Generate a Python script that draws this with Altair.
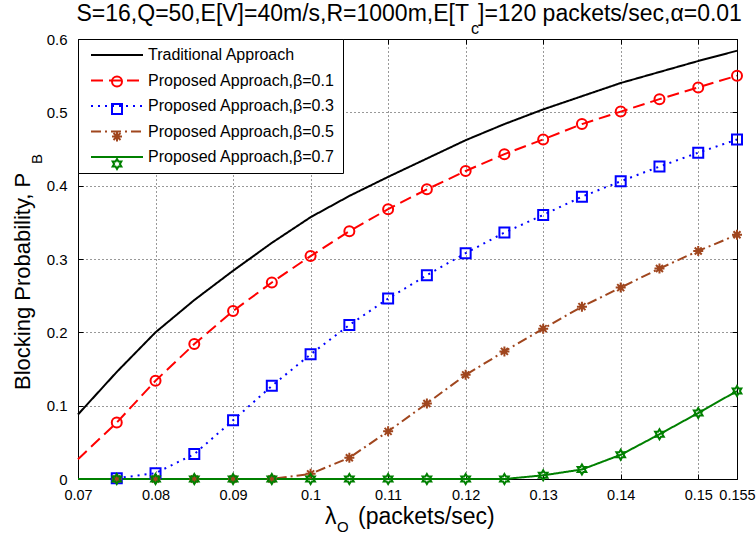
import altair as alt
import pandas as pd

# ---------------- data ----------------
x_vals = [0.07, 0.075, 0.08, 0.085, 0.09, 0.095, 0.10, 0.105, 0.11,
          0.115, 0.12, 0.125, 0.13, 0.135, 0.14, 0.145, 0.15, 0.155]
traditional = [0.088, 0.146, 0.200, 0.244, 0.284, 0.322, 0.357, 0.386, 0.412,
               0.437, 0.462, 0.484, 0.504, 0.522, 0.540, 0.555, 0.570, 0.584]
beta01 = [0.027, 0.077, 0.134, 0.184, 0.229, 0.268, 0.304, 0.338, 0.368,
          0.395, 0.420, 0.443, 0.463, 0.484, 0.501, 0.518, 0.534, 0.550]
beta03 = [None, 0.001, 0.008, 0.034, 0.080, 0.127, 0.170, 0.210, 0.246,
          0.278, 0.308, 0.336, 0.360, 0.385, 0.406, 0.426, 0.445, 0.463]
beta05 = [None, 0.0, 0.0, 0.0, 0.0, 0.0, 0.007, 0.029, 0.065,
          0.103, 0.142, 0.174, 0.205, 0.235, 0.261, 0.287, 0.311, 0.333]
beta07 = [0.0, 0.0, 0.0, 0.0, 0.0, 0.0, 0.0, 0.0, 0.0,
          0.0, 0.0, 0.0, 0.005, 0.013, 0.033, 0.061, 0.090, 0.120]

series_names = ["Traditional Approach",
                "Proposed Approach,\u03b2=0.1",
                "Proposed Approach,\u03b2=0.3",
                "Proposed Approach,\u03b2=0.5",
                "Proposed Approach,\u03b2=0.7"]
series_values = [traditional, beta01, beta03, beta05, beta07]
has_markers = [False, True, True, True, True]

x_ticks = [0.07, 0.08, 0.09, 0.10, 0.11, 0.12, 0.13, 0.14, 0.15, 0.155]
y_ticks = [0.0, 0.1, 0.2, 0.3, 0.4, 0.5, 0.6]

# ---------------- styles ----------------
colors = ["#000000", "#FF0000", "#0000FF", "#A0461E", "#008000"]
dashes = [[1, 0], [12, 6], [2, 5], [10, 4, 2, 4], [1, 0]]
asterisk = "M-1,0L1,0M0,-1L0,1M-0.7,-0.7L0.7,0.7M-0.7,0.7L0.7,-0.7"
hexagram = ("M0,-1L0.289,-0.5L0.866,-0.5L0.577,0L0.866,0.5L0.289,0.5"
            "L0,1L-0.289,0.5L-0.866,0.5L-0.577,0L-0.866,-0.5L-0.289,-0.5Z")
shapes = ["M0,0L0,0", "circle", "square", asterisk, hexagram]
legend_line = "M-5.2,0L5.2,0"
FONT = "Liberation Sans"

rows, mrows = [], []
for name, vals, mk in zip(series_names, series_values, has_markers):
    for xv, yv in zip(x_vals, vals):
        if yv is None:
            continue
        rows.append({"series": name, "x": xv, "y": yv})
        if mk and xv > 0.0701:
            mrows.append({"series_m": name, "x": xv, "y": yv})
df = pd.DataFrame(rows)
dfm = pd.DataFrame(mrows)

xscale = alt.Scale(domain=[0.07, 0.155], nice=False, zero=False)
yscale = alt.Scale(domain=[0, 0.6], nice=False, zero=False)

common_leg = dict(
    orient="none", legendX=0, legendY=0, title=None,
    symbolSize=100, symbolStrokeWidth=2, symbolOffset=23,
    labelFont=FONT, labelFontSize=16, labelOffset=23,
    padding=8, rowPadding=9.5, labelLimit=400)
line_legend = alt.Legend(
    symbolType=legend_line, labelColor="black",
    strokeColor="black", fillColor="white", cornerRadius=0, **common_leg)
point_legend = alt.Legend(
    symbolFillColor="transparent", labelOpacity=0, labelExpr="' '", **common_leg)

lines = alt.Chart(df).mark_line(strokeWidth=2).encode(
    x=alt.X("x:Q", scale=xscale, axis=alt.Axis(
        orient="bottom", values=x_ticks, labelExpr="toString(datum.value)", title=None,
        grid=True, gridDash=[1, 3], gridColor="black", gridOpacity=0.8,
        domain=False, tickSize=5, offset=-5, tickColor="black",
        labelPadding=9, labelFont=FONT, labelFontSize=14.5, labelColor="black",
        labelFlush=False, labelOverlap=False, labelBound=False, labelLimit=200)),
    y=alt.Y("y:Q", scale=yscale, axis=alt.Axis(
        orient="left", values=y_ticks, format="~g", title=None,
        grid=True, gridDash=[1, 3], gridColor="black", gridOpacity=0.8,
        domain=False, tickSize=5, offset=-5, tickColor="black",
        labelPadding=11, labelFont=FONT, labelFontSize=15, labelColor="black",
        labelFlush=False, labelOverlap=False)),
    color=alt.Color("series:N", scale=alt.Scale(domain=series_names, range=colors),
                    legend=line_legend),
    strokeDash=alt.StrokeDash("series:N", scale=alt.Scale(domain=series_names, range=dashes),
                              legend=line_legend),
    order=alt.Order("x:Q"),
)

points = alt.Chart(dfm).mark_point(filled=False, strokeWidth=2, size=100, opacity=1).encode(
    x=alt.X("x:Q", scale=xscale, axis=alt.Axis(
        orient="top", values=x_ticks, title=None, labels=False, grid=False,
        domain=False, tickSize=5, offset=-5, tickColor="black")),
    y=alt.Y("y:Q", scale=yscale, axis=alt.Axis(
        orient="right", values=y_ticks, title=None, labels=False, grid=False,
        domain=False, tickSize=5, offset=-5, tickColor="black")),
    color=alt.Color("series_m:N", scale=alt.Scale(domain=series_names, range=colors),
                    legend=point_legend),
    shape=alt.Shape("series_m:N", scale=alt.Scale(domain=series_names, range=shapes),
                    legend=point_legend),
)

def txt(s, x, y, size, align="left", angle=0):
    return alt.Chart(pd.DataFrame({"t": [s]})).mark_text(
        font=FONT, fontSize=size, align=align, baseline="alphabetic",
        angle=angle, color="black").encode(
        text="t:N", x=alt.value(x), y=alt.value(y))

title_parts = [
    txt("S=16,Q=50,E[V]=40m/s,R=1000m,E[T", 391, -18, 23, "right"),
    txt("c", 393, -5, 16),
    txt("]=120 packets/sec,\u03b1=0.01", 400, -18, 23),
]
xtitle_parts = [
    txt("\u03bb", 247, 485, 23),
    txt("O", 259, 493, 15),
    txt("(packets/sec)", 280, 485, 23),
]
ytitle_parts = [
    txt("Blocking Probability, P", -48, 351, 22, "left", 270),
    txt("B", -36, 125, 15, "left", 270),
]

chart = alt.layer(lines, points, *title_parts, *xtitle_parts, *ytitle_parts).resolve_scale(
    color="independent", shape="independent", strokeDash="independent"
).resolve_axis(x="independent", y="independent").resolve_legend(
    color="independent", shape="independent", strokeDash="independent"
).properties(
    width=659, height=440,
    padding={"left": 78, "top": 39, "right": 19, "bottom": 56},
    autosize=alt.AutoSizeParams(type="none"),
    background="white",
).configure_view(stroke="black", strokeWidth=1)

chart.save("out.html", embed_options={"renderer": "svg", "actions": False})
